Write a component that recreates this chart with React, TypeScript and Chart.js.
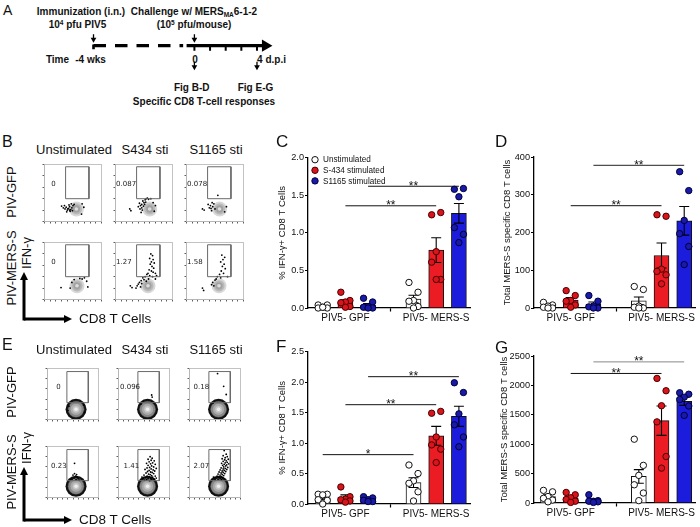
import React, { useEffect, useRef } from "react";
import { Chart, registerables } from "chart.js";

Chart.register(...registerables);

const FONT = '"Liberation Sans", Arial, Helvetica, sans-serif';

// ================= DATA: bar panels =================
const GROUPS = ["PIV5- GPF", "PIV5- MERS-S"];
const CONDITIONS = ["Unstimulated", "S-434 stimulated", "S1165 stimulated"];
const SLOTS = [1, 2, 3, 5, 6, 7];
const GROUP_LABEL_POS = [2, 6];
const GROUP_DIVIDER = 4;

// C: % IFN-γ+ CD8 T cells (day 0)
const C_MEAN = [0.02, 0.08, 0.04, 0.12, 0.77, 1.26];
const C_SEM = [0.01, 0.03, 0.02, 0.05, 0.165, 0.13];
const C_POINTS = [
  [0.04, 0.04, 0.01, 0.0, 0.0, 0.01],
  [0.21, 0.1, 0.08, 0.07, 0.02, 0.01],
  [0.13, 0.08, 0.02, 0.01, 0.0, 0.0],
  [0.34, 0.21, 0.1, 0.09, 0.02, 0.0],
  [1.24, 1.27, 0.75, 0.61, 0.38, 0.38],
  [1.58, 1.59, 1.48, 1.07, 0.98, 0.87],
];
const C_SIG: [number, number, number, string][] = [
  [2, 6, 1.36, "**"],
  [3, 7, 1.62, "**"],
];

// D: Total MERS-S specific CD8 T cells (day 0)
const D_MEAN = [5, 21, 10, 19, 139, 231];
const D_SEM = [3, 7, 6, 10, 33, 38];
const D_POINTS = [
  [15, 8, 5, 2, 0, 0],
  [46, 33, 20, 18, 8, 2],
  [33, 18, 5, 3, 0, 0],
  [57, 49, 5, 2, 0, 0],
  [247, 243, 103, 97, 88, 64],
  [361, 311, 232, 197, 163, 115],
];
const D_SIG: [number, number, number, string][] = [
  [2, 6, 271, "**"],
  [3, 7, 378, "**"],
];

// F: % IFN-γ+ CD8 T cells (4 d.p.i.)
const F_MEAN = [0.1, 0.11, 0.07, 0.35, 1.12, 1.44];
const F_SEM = [0.03, 0.04, 0.015, 0.08, 0.155, 0.165];
const F_POINTS = [
  [0.16, 0.16, 0.15, 0.07, 0.06, 0.0],
  [0.28, 0.12, 0.08, 0.07, 0.05, 0.03],
  [0.12, 0.1, 0.07, 0.06, 0.04, 0.04],
  [0.64, 0.5, 0.38, 0.34, 0.2, 0.05],
  [1.49, 1.52, 1.1, 0.97, 0.9, 0.68],
  [1.99, 1.83, 1.48, 1.3, 1.1, 0.94],
];
const F_SIG: [number, number, number, string][] = [
  [1, 5, 0.81, "*"],
  [2, 6, 1.63, "**"],
  [3, 7, 2.09, "**"],
];

// G: Total MERS-S specific CD8 T cells (4 d.p.i.)
const G_MEAN = [111, 85, 45, 452, 1400, 1730];
const G_SEM = [30, 28, 20, 115, 250, 70];
const G_POINTS = [
  [215, 190, 110, 80, 50, 20],
  [180, 140, 90, 60, 30, 10],
  [140, 40, 30, 30, 20, 10],
  [1085, 640, 470, 310, 170, 40],
  [2119, 1909, 1654, 1380, 790, 593],
  [1875, 1850, 1800, 1760, 1650, 1490],
];
const G_SIG: [number, number, number, string][] = [
  [2, 6, 2203, "**"],
  [3, 7, 2400, "**"],
];

// ================= DATA: flow plots (0–100 display units) =================
const FLOW_COLS = ["Unstimulated", "S434 sti", "S1165 sti"];
const FLOW_ROWS = ["PIV-GFP", "PIV-MERS-S"];
const B_GATE = [37, 78, 40, 96];
const E_GATE = [38, 80, 33, 94];
const B_PCT = ["0", "0.087", "0.078", "0", "1.27", "1.58"];
const E_PCT = ["0", "0.096", "0.18", "0.23", "1.41", "2.07"];
const B_PCT_POS = [[12, 65], [1, 65], [1, 65], [12, 65], [1, 65], [1, 65]];
const E_PCT_POS = [[17, 63], [3, 63], [8, 63], [7, 61], [10, 61], [8, 61]];
const B_BLOB = [[56, 22], [60, 22], [58, 22], [57, 24], [57, 24], [57, 24]];
const E_BLOB = [[56, 20], [57, 20], [57, 20], [56, 22], [57, 22], [57, 22]];

const B_GFP_UN = [[30, 27], [33, 24], [36, 22], [38, 25], [40, 20], [42, 23], [44, 26], [46, 21], [45, 18], [48, 24], [50, 28], [49, 19], [52, 30], [43, 29], [39, 17], [66, 31], [69, 25], [65, 13], [35, 28], [47, 31], [41, 22], [44, 20]];
const B_GFP_434 = [[25, 22], [27, 19], [42, 32], [44, 28], [46, 24], [48, 36], [50, 33], [47, 20], [52, 38], [54, 40], [56, 41], [58, 39], [49, 27], [45, 16], [66, 33], [70, 28], [68, 18], [40, 26], [53, 34], [62, 40], [43, 22], [51, 30], [46, 30]];
const B_GFP_1165 = [[28, 22], [31, 20], [40, 24], [42, 28], [44, 19], [46, 26], [48, 31], [38, 30], [55, 46], [50, 22], [70, 26], [67, 17], [45, 33], [43, 23]];
const B_MERS_UN = [[29, 21], [48, 30], [62, 37], [74, 32], [76, 22], [45, 20], [70, 38], [52, 35], [66, 36]];
const B_MERS_434 = [[62, 80], [65, 77], [60, 72], [66, 70], [63, 66], [68, 64], [61, 62], [64, 58], [67, 55], [59, 52], [63, 50], [66, 48], [70, 46], [57, 46], [55, 44], [60, 42], [65, 40], [52, 40], [48, 38], [50, 35], [45, 33], [42, 30], [40, 27], [46, 28], [38, 24], [36, 20], [44, 22], [26, 24], [29, 21], [70, 36], [72, 42], [58, 36], [54, 32]];
const B_MERS_1165 = [[62, 78], [67, 74], [64, 70], [60, 66], [66, 62], [63, 58], [68, 54], [61, 50], [65, 46], [58, 44], [54, 40], [60, 38], [50, 34], [46, 30], [44, 26], [48, 24], [28, 20], [30, 16], [72, 40], [52, 36]];
const E_GFP_UN = [[40, 18], [42, 26], [71, 28], [72, 14]];
const E_GFP_434 = [[65, 48], [66, 44], [44, 30], [70, 32]];
const E_GFP_1165 = [[55, 90], [67, 65], [72, 49], [46, 32]];
const E_MERS_UN = [[53, 67], [50, 44], [55, 42], [58, 40], [52, 38], [60, 37], [48, 36], [56, 35], [62, 34], [45, 34], [53, 47], [57, 45]];
const E_MERS_434 = [[62, 80], [66, 77], [58, 75], [64, 73], [70, 72], [60, 70], [67, 68], [55, 67], [63, 66], [72, 65], [58, 63], [65, 62], [69, 60], [61, 59], [56, 58], [74, 57], [64, 56], [52, 55], [68, 54], [60, 53], [71, 52], [57, 51], [63, 50], [66, 49], [54, 48], [69, 47], [59, 46], [62, 45], [50, 44], [65, 43], [72, 42], [56, 42], [60, 41], [67, 40], [53, 39], [63, 38], [48, 37], [58, 37], [70, 36], [55, 35], [64, 35], [51, 34], [61, 33], [46, 40], [74, 38]];
const E_MERS_1165 = [[68, 92], [72, 85], [66, 82], [74, 80], [70, 78], [64, 76], [76, 75], [69, 74], [72, 72], [66, 71], [74, 69], [70, 68], [63, 67], [77, 66], [68, 65], [73, 64], [65, 63], [71, 62], [67, 60], [75, 59], [62, 58], [70, 57], [66, 56], [73, 55], [60, 54], [68, 53], [64, 52], [71, 51], [58, 50], [66, 49], [62, 48], [69, 47], [56, 46], [64, 45], [60, 44], [67, 43], [54, 42], [62, 41], [58, 40], [65, 39], [52, 38], [60, 37], [56, 36], [63, 35], [50, 35], [47, 40]];
const B_DOTS = [B_GFP_UN, B_GFP_434, B_GFP_1165, B_MERS_UN, B_MERS_434, B_MERS_1165];
const E_DOTS = [E_GFP_UN, E_GFP_434, E_GFP_1165, E_MERS_UN, E_MERS_434, E_MERS_1165];

// ================= DATA: timeline (panel A) =================
const TL_DAYS = [0, 1, 2, 3, 4];
const TL_PRIME = -6.45; // "-4 wks" on the broken schematic axis
const TL_DOWN_ARROWS = [0, 4];
const TL_UP_ARROWS = [TL_PRIME, 0];

// ================= Styles =================
const BAR_FILL = ["#ffffff", "#ec1c24", "#1c1cdc"];
const PT_FILL = ["#ffffff", "#d9141c", "#1a1aa8"];
const PT_EDGE = ["#111111", "#4a0000", "#00003a"];
const JITTER = [-0.2, 0.2, 0, -0.2, 0.2, 0];
const CAP = 0.22;

const annotPlugin = {
  id: "annot",
  afterDatasetsDraw(chart: any, _a: any, opts: any) {
    const { ctx, chartArea } = chart;
    const xs = chart.scales.x;
    const ys = chart.scales.y;
    ctx.save();
    if (opts.frame) {
      ctx.strokeStyle = opts.frame;
      ctx.lineWidth = 0.8;
      ctx.strokeRect(chartArea.left, chartArea.top, chartArea.right - chartArea.left, chartArea.bottom - chartArea.top);
    }
    (opts.sig || []).forEach((s: any) => {
      ctx.font = `12px ${FONT}`;
      ctx.fillStyle = "#111";
      ctx.textAlign = "center";
      ctx.textBaseline = "alphabetic";
      ctx.fillText(s[3], (xs.getPixelForValue(s[0]) + xs.getPixelForValue(s[1])) / 2, ys.getPixelForValue(s[2]) + 3.5);
    });
    if (opts.legend) {
      CONDITIONS.forEach((name, i) => {
        const cy = chartArea.top + 2 + i * 10.6;
        const cx = chartArea.left + 7;
        ctx.beginPath();
        ctx.arc(cx, cy, 3.2, 0, Math.PI * 2);
        ctx.fillStyle = PT_FILL[i];
        ctx.fill();
        ctx.lineWidth = 1;
        ctx.strokeStyle = PT_EDGE[i];
        ctx.stroke();
        ctx.font = `8.2px ${FONT}`;
        ctx.fillStyle = "#111";
        ctx.textAlign = "left";
        ctx.textBaseline = "middle";
        ctx.fillText(name, chartArea.left + 15, cy + 0.5);
      });
    }
    if (opts.text) {
      ctx.font = '7px "DejaVu Sans"';
      ctx.fillStyle = "#222";
      ctx.textAlign = "left";
      ctx.textBaseline = "middle";
      ctx.fillText(opts.text[0], xs.getPixelForValue(opts.text[1]), ys.getPixelForValue(opts.text[2]));
    }
    ctx.restore();
  },
};

type BarPanel = {
  mean: number[];
  sem: number[];
  points: number[][];
  sig: [number, number, number, string][];
  sigColors: string[];
  yMax: number;
  yStep: number;
  decimals: number;
  title: string;
  xMin: number;
  xMax: number;
  yAxisWidth: number;
  padTop: number;
  legend: boolean;
};

function barConfig(p: BarPanel): any {
  const datasets: any[] = [];
  datasets.push({
    type: "bar",
    data: SLOTS.map((x, i) => ({ x, y: p.mean[i] })),
    backgroundColor: SLOTS.map((_, i) => BAR_FILL[i % 3]),
    borderColor: "#111",
    borderWidth: 1,
    barThickness: 15,
    order: 5,
    clip: false,
  });
  const err: any[] = [];
  SLOTS.forEach((x, i) => {
    const hi = p.mean[i] + p.sem[i];
    const lo = p.mean[i] - p.sem[i];
    err.push({ x, y: Math.max(lo, 0) }, { x, y: hi }, { x, y: null });
    err.push({ x: x - CAP, y: hi }, { x: x + CAP, y: hi }, { x, y: null });
    if (lo > 0) err.push({ x: x - CAP, y: lo }, { x: x + CAP, y: lo }, { x, y: null });
  });
  datasets.push({
    type: "line",
    data: err,
    borderColor: "#000",
    borderWidth: 1.1,
    pointRadius: 0,
    spanGaps: false,
    order: 4,
    clip: false,
  });
  SLOTS.forEach((x, i) => {
    datasets.push({
      type: "line",
      showLine: false,
      data: p.points[i].map((v, j) => ({ x: x + JITTER[j], y: v })),
      pointRadius: 3.2,
      pointBackgroundColor: PT_FILL[i % 3],
      pointBorderColor: PT_EDGE[i % 3],
      pointBorderWidth: 1,
      order: 3,
      clip: false,
    });
  });
  p.sig.forEach((s, k) => {
    datasets.push({
      type: "line",
      data: [{ x: s[0], y: s[2] }, { x: s[1], y: s[2] }],
      borderColor: p.sigColors[k] || "#111",
      borderWidth: 1,
      pointRadius: 0,
      order: 1,
      clip: false,
    });
  });
  return {
    type: "bar",
    data: { datasets },
    plugins: [annotPlugin],
    options: {
      animation: false,
      responsive: false,
      maintainAspectRatio: false,
      events: [],
      layout: { padding: { top: p.padTop, right: 5, left: 0, bottom: 0 } },
      plugins: {
        legend: { display: false },
        tooltip: { enabled: false },
        annot: { sig: p.sig, legend: p.legend },
      },
      scales: {
        x: {
          type: "linear",
          offset: false,
          min: p.xMin,
          max: p.xMax,
          afterBuildTicks: (s: any) => {
            s.ticks = [GROUP_LABEL_POS[0], GROUP_DIVIDER, GROUP_LABEL_POS[1]].map((v) => ({ value: v }));
          },
          afterFit: (s: any) => {
            s.height = 20;
          },
          ticks: {
            autoSkip: false,
            maxRotation: 0,
            padding: 1,
            color: "#111",
            font: { family: FONT, size: 10 },
            callback: (v: number) => {
              const k = GROUP_LABEL_POS.indexOf(v);
              return k >= 0 ? GROUPS[k] : "";
            },
          },
          grid: {
            offset: false,
            drawOnChartArea: false,
            tickLength: 3.5,
            tickWidth: 1.2,
            tickColor: (c: any) => (c.tick && c.tick.value === GROUP_DIVIDER ? "#000" : "rgba(0,0,0,0)"),
          },
          border: { color: "#000", width: 1.3 },
        },
        y: {
          min: 0,
          max: p.yMax,
          afterFit: (s: any) => {
            s.width = p.yAxisWidth;
          },
          ticks: {
            stepSize: p.yStep,
            padding: 1,
            color: "#111",
            font: { family: FONT, size: 9.2 },
            callback: (v: number) => v.toFixed(p.decimals),
          },
          grid: { drawOnChartArea: false, tickLength: 3, tickWidth: 1.2, tickColor: "#000" },
          border: { color: "#000", width: 1.3 },
          title: {
            display: true,
            text: p.title,
            padding: 0,
            color: "#111",
            font: { family: FONT, size: 9.5 },
          },
        },
      },
    },
  };
}

type FlowSpec = { dots: number[][]; blob: number[]; gate: number[]; pct: string; pctPos: number[]; dense: boolean };

function flowConfig(f: FlowSpec): any {
  const [gx1, gx2, gy1, gy2] = f.gate;
  const rings = f.dense
    ? [
        [10.5, "#101010", "#000", 0],
        [8, "#8a8a8a", "#555", 0.5],
        [6, "#ababab", "#777", 0.5],
        [3.8, "#c8c8c8", "#999", 0.4],
        [1.8, "#eeeeee", "#eee", 0],
      ]
    : [
        [7.5, "#d8d8d8", "#cfcfcf", 0],
        [5.6, "#b9b9b9", "#b0b0b0", 0],
        [3.6, "#a2a2a2", "#999", 0],
        [1.8, "#dddddd", "#ddd", 0],
      ];
  const datasets: any[] = [
    {
      data: [
        { x: gx1, y: gy1 },
        { x: gx1, y: gy2 },
        { x: gx2, y: gy2 },
        { x: gx2, y: gy1 },
        { x: gx1, y: gy1 },
      ],
      borderColor: "#6a6a6a",
      borderWidth: 1,
      pointRadius: 0,
      order: 1,
    },
    ...rings.map((r: any, k: number) => ({
      data: [{ x: f.blob[0], y: f.blob[1] }],
      showLine: false,
      pointRadius: r[0],
      pointBackgroundColor: r[1],
      pointBorderColor: r[2],
      pointBorderWidth: r[3],
      order: 20 - k,
    })),
    {
      data: f.dots.map((d) => ({ x: d[0], y: d[1] })),
      showLine: false,
      pointRadius: 0.9,
      pointBackgroundColor: "#000",
      pointBorderWidth: 0,
      order: 2,
    },
  ];
  return {
    type: "line",
    data: { datasets },
    plugins: [annotPlugin],
    options: {
      animation: false,
      responsive: false,
      maintainAspectRatio: false,
      events: [],
      layout: { padding: { top: 1, right: 1, left: 0, bottom: 0 } },
      plugins: {
        legend: { display: false },
        tooltip: { enabled: false },
        annot: { frame: "#b4b4b4", text: [f.pct, f.pctPos[0], f.pctPos[1]] },
      },
      scales: {
        x: {
          type: "linear",
          min: 0,
          max: 100,
          afterFit: (s: any) => {
            s.height = 3;
          },
          ticks: { display: false, stepSize: 10 },
          grid: { drawOnChartArea: false, tickLength: 2, tickColor: "#333", tickWidth: 0.8 },
          border: { color: "#b4b4b4", width: 0.8 },
        },
        y: {
          min: 0,
          max: 100,
          afterFit: (s: any) => {
            s.width = 3;
          },
          ticks: { display: false, stepSize: 20 },
          grid: { drawOnChartArea: false, tickLength: 2, tickColor: "#333", tickWidth: 0.8 },
          border: { color: "#b4b4b4", width: 0.8 },
        },
      },
    },
  };
}

function timelineConfig(): any {
  const LINE = 3.66;
  const TICK_END = 5.0;
  const UP_TOP = 0.6;
  const UP_TIP = 2.6;
  const DN_TOP = 8.0;
  const DN_TIP = 10.0;
  const shafts: any[] = [];
  const heads: any[] = [];
  TL_UP_ARROWS.forEach((x) => {
    shafts.push({ x, y: UP_TOP }, { x, y: UP_TIP - 0.6 }, { x, y: null });
    heads.push({ x, y: UP_TIP - 0.62 });
  });
  TL_DOWN_ARROWS.forEach((x) => {
    shafts.push({ x, y: DN_TOP }, { x, y: DN_TIP - 0.6 }, { x, y: null });
    heads.push({ x, y: DN_TIP - 0.62 });
  });
  const ticks: any[] = [];
  TL_DAYS.forEach((d) => ticks.push({ x: d, y: LINE }, { x: d, y: TICK_END }, { x: d, y: null }));
  const datasets: any[] = [
    { data: [{ x: TL_PRIME, y: LINE }, { x: -0.72, y: LINE }], borderColor: "#000", borderWidth: 3.3, borderDash: [12.5, 9], borderCapStyle: "butt", pointRadius: 0 },
    { data: [{ x: TL_PRIME, y: LINE - 0.33 }, { x: TL_PRIME, y: LINE + 1.0 }], borderColor: "#000", borderWidth: 2.6, pointRadius: 0 },
    { data: [{ x: -0.5, y: LINE }, { x: 4.5, y: LINE }], borderColor: "#000", borderWidth: 3.3, pointRadius: 0 },
    { data: [{ x: 4.54, y: LINE }], showLine: false, pointStyle: "triangle", pointRotation: 90, pointRadius: 7, pointBackgroundColor: "#000", pointBorderColor: "#000", pointBorderWidth: 0 },
    { data: ticks, borderColor: "#000", borderWidth: 2, pointRadius: 0, spanGaps: false },
    { data: shafts, borderColor: "#000", borderWidth: 1.3, pointRadius: 0, spanGaps: false },
    { data: heads, showLine: false, pointStyle: "triangle", pointRotation: 180, pointRadius: 3.3, pointBackgroundColor: "#000", pointBorderColor: "#000", pointBorderWidth: 0 },
  ];
  return {
    type: "line",
    data: { datasets },
    options: {
      animation: false,
      responsive: false,
      maintainAspectRatio: false,
      events: [],
      layout: { padding: 0 },
      plugins: { legend: { display: false }, tooltip: { enabled: false } },
      scales: {
        x: { type: "linear", min: -6.866, max: 5.791, display: false },
        y: { type: "linear", min: 0, max: 11, reverse: true, display: false },
      },
    },
  };
}

function ChartBox({ left, top, width, height, make }: any) {
  const ref = useRef<HTMLCanvasElement>(null);
  useEffect(() => {
    const c = new Chart(ref.current as HTMLCanvasElement, make());
    return () => c.destroy();
  }, []);
  return <canvas ref={ref} width={width} height={height} style={{ position: "absolute", left, top, width, height }} />;
}

function T({ x, y, size = 10, bold = false, rot = 0, align = "center", children, family = FONT }: any) {
  const tx = align === "center" ? "-50%" : align === "left" ? "0" : "-100%";
  return (
    <div
      style={{
        position: "absolute",
        left: x,
        top: y,
        transform: `translate(${tx},-50%) rotate(${rot}deg)`,
        whiteSpace: "nowrap",
        fontFamily: family,
        fontSize: size,
        fontWeight: bold ? 700 : 400,
        lineHeight: 1,
        color: "#111",
      }}
    >
      {children}
    </div>
  );
}

const SUP = { fontSize: 6.5, verticalAlign: "3px", lineHeight: 0 } as any;
const SUB = { fontSize: 6.5, verticalAlign: "-2px", lineHeight: 0 } as any;

const FLOW_COL_LEFT = [40, 111, 182];
const FLOW_SIZE = 68;

function FlowBlock({ rowTops, gate, pct, pctPos, blobs, dots, dense }: any) {
  const out: any[] = [];
  rowTops.forEach((t: number, r: number) => {
    FLOW_COL_LEFT.forEach((l: number, c: number) => {
      const k = r * 3 + c;
      out.push(
        <ChartBox
          key={k}
          left={l - 3}
          top={t - 1}
          width={FLOW_SIZE + 4}
          height={FLOW_SIZE + 4}
          make={() => flowConfig({ dots: dots[k], blob: blobs[k], gate, pct: pct[k], pctPos: pctPos[k], dense })}
        />
      );
    });
  });
  return <>{out}</>;
}

function AxisArrows({ y, tipY }: { y: number; tipY: number }) {
  return (
    <svg style={{ position: "absolute", left: 0, top: 0 }} width={700} height={527}>
      <line x1={24} y1={y + 1.5} x2={24} y2={tipY + 6} stroke="#000" strokeWidth={3} />
      <polygon points={`${24},${tipY} ${20},${tipY + 8} ${28},${tipY + 8}`} fill="#000" />
      <line x1={24} y1={y} x2={66} y2={y} stroke="#000" strokeWidth={3} />
      <polygon points={`${72},${y} ${64},${y - 4} ${64},${y + 4}`} fill="#000" />
    </svg>
  );
}

export default function App() {
  return (
    <div
      style={{
        position: "absolute",
        left: 0,
        top: 0,
        width: 700,
        height: 527,
        background: "#fff",
        overflow: "hidden",
        fontFamily: FONT,
      }}
    >
      {/* Panel A */}
      <T x={3} y={10} size={14} align="left">A</T>
      <T x={81} y={12} bold>Immunization (i.n.)</T>
      <T x={77.5} y={25} bold>
        10<span style={SUP}>4</span> pfu PIV5
      </T>
      <T x={194} y={12} bold>
        Challenge w/ MERS<span style={SUB}>MA</span>6-1-2
      </T>
      <T x={194} y={25} bold>
        (10<span style={SUP}>5</span> pfu/mouse)
      </T>
      <T x={57.5} y={59.5} bold>Time</T>
      <T x={90.5} y={59.5} bold>-4 wks</T>
      <T x={195} y={59.5} bold>0</T>
      <T x={271.5} y={59.5} bold>4 d.p.i</T>
      <T x={191.7} y={87.5} bold>Fig B-D</T>
      <T x={255.5} y={87.5} bold>Fig E-G</T>
      <T x={204} y={102} bold>Specific CD8 T-cell responses</T>
      <ChartBox left={80} top={25} width={212} height={55} make={timelineConfig} />

      {/* Panel B */}
      <T x={2} y={142} size={16} align="left">B</T>
      {FLOW_COLS.map((c, i) => (
        <T key={"bh" + i} x={FLOW_COL_LEFT[i] + FLOW_SIZE / 2} y={149} size={13}>
          {c}
        </T>
      ))}
      <T x={10.5} y={192} size={13} rot={-90}>{FLOW_ROWS[0]}</T>
      <T x={10.5} y={268} size={13} rot={-90}>{FLOW_ROWS[1]}</T>
      <T x={26} y={253} size={13} rot={-90}>IFN-γ</T>
      <AxisArrows y={319} tipY={272} />
      <T x={79} y={319} size={13.5} align="left">CD8 T Cells</T>
      <FlowBlock rowTops={[158, 236]} gate={B_GATE} pct={B_PCT} pctPos={B_PCT_POS} blobs={B_BLOB} dots={B_DOTS} dense={false} />

      {/* Panel E */}
      <T x={2} y={345} size={16} align="left">E</T>
      {FLOW_COLS.map((c, i) => (
        <T key={"eh" + i} x={FLOW_COL_LEFT[i] + FLOW_SIZE / 2} y={349} size={13}>
          {c}
        </T>
      ))}
      <T x={10.5} y={392} size={13} rot={-90}>{FLOW_ROWS[0]}</T>
      <T x={10.5} y={472} size={13} rot={-90}>{FLOW_ROWS[1]}</T>
      <T x={26} y={448} size={13} rot={-90}>IFN-γ</T>
      <AxisArrows y={520} tipY={467} />
      <T x={79} y={520} size={13.5} align="left">CD8 T Cells</T>
      <FlowBlock rowTops={[359, 437]} gate={E_GATE} pct={E_PCT} pctPos={E_PCT_POS} blobs={E_BLOB} dots={E_DOTS} dense={true} />

      {/* Panels C, D, F, G */}
      <T x={276} y={141} size={17} align="left">C</T>
      <T x={495} y={141} size={17} align="left">D</T>
      <T x={276} y={346} size={17} align="left">F</T>
      <T x={495} y={347} size={17} align="left">G</T>

      <ChartBox
        left={277}
        top={150}
        width={198}
        height={178}
        make={() =>
          barConfig({
            mean: C_MEAN, sem: C_SEM, points: C_POINTS, sig: C_SIG, sigColors: ["#111", "#111"],
            yMax: 2, yStep: 0.5, decimals: 1, title: "% IFN-γ+ CD8 T Cells",
            xMin: 0.352, xMax: 7.489, yAxisWidth: 31, padTop: 7.7, legend: true,
          })
        }
      />
      <ChartBox
        left={502}
        top={150}
        width={198}
        height={178}
        make={() =>
          barConfig({
            mean: D_MEAN, sem: D_SEM, points: D_POINTS, sig: D_SIG, sigColors: ["#111", "#222"],
            yMax: 400, yStep: 100, decimals: 0, title: "Total MERS-S specific CD8 T cells",
            xMin: 0.383, xMax: 7.475, yAxisWidth: 32, padTop: 7, legend: false,
          })
        }
      />
      <ChartBox
        left={277}
        top={344}
        width={198}
        height={180}
        make={() =>
          barConfig({
            mean: F_MEAN, sem: F_SEM, points: F_POINTS, sig: F_SIG, sigColors: ["#111", "#111", "#111"],
            yMax: 2.5, yStep: 0.5, decimals: 1, title: "% IFN-γ+ CD8 T Cells",
            xMin: 0.352, xMax: 7.489, yAxisWidth: 31, padTop: 7.7, legend: false,
          })
        }
      />
      <ChartBox
        left={499}
        top={348}
        width={201}
        height={175}
        make={() =>
          barConfig({
            mean: G_MEAN, sem: G_SEM, points: G_POINTS, sig: G_SIG, sigColors: ["#111", "#888"],
            yMax: 2500, yStep: 500, decimals: 0, title: "Total MERS-S specific CD8 T cells",
            xMin: 0.383, xMax: 7.475, yAxisWidth: 35, padTop: 8, legend: false,
          })
        }
      />
    </div>
  );
}
